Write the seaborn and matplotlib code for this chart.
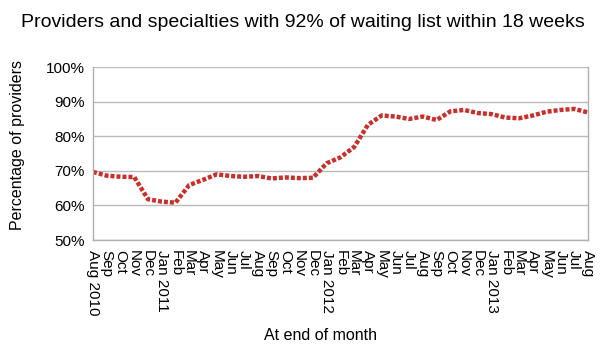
import seaborn as sns
import matplotlib.pyplot as plt
import pandas as pd
import numpy as np

months = ['Aug 2010', 'Sep', 'Oct', 'Nov', 'Dec', 'Jan 2011', 'Feb', 'Mar', 'Apr', 'May', 'Jun', 'Jul',
          'Aug', 'Sep', 'Oct', 'Nov', 'Dec', 'Jan 2012', 'Feb', 'Mar', 'Apr', 'May', 'Jun', 'Jul',
          'Aug', 'Sep', 'Oct', 'Nov', 'Dec', 'Jan 2013', 'Feb', 'Mar', 'Apr', 'May', 'Jun', 'Jul', 'Aug']
pct = [69.7, 68.6, 68.3, 68.2, 61.8, 61.1, 60.8, 65.9, 67.4, 69.0, 68.5, 68.3,
       68.5, 67.8, 68.1, 67.9, 68.0, 72.2, 73.9, 76.9, 83.3, 86.0, 85.7, 85.0,
       85.7, 84.7, 87.2, 87.6, 86.7, 86.4, 85.4, 85.2, 86.0, 87.1, 87.6, 87.9, 86.9]

df = pd.DataFrame({'month': np.arange(len(months)), 'pct': pct})

sns.set_style('white')
plt.rcParams['font.family'] = ['Liberation Sans', 'DejaVu Sans']
plt.rcParams['text.color'] = 'black'
plt.rcParams['axes.labelcolor'] = 'black'
plt.rcParams['xtick.color'] = 'black'
plt.rcParams['ytick.color'] = 'black'

fig = plt.figure(figsize=(6.02, 3.53), dpi=100)
ax = fig.add_axes([0.1545, 0.32, 0.822, 0.49])

sns.lineplot(data=df, x='month', y='pct', ax=ax, color='#c9302c', linewidth=3.2,
             linestyle=(0, (0.9, 0.45)), dash_capstyle='butt')

ax.set_xlim(0, len(months) - 1)
ax.set_ylim(50, 100)
ax.set_yticks(range(50, 101, 10))
ax.set_yticklabels([f'{v}%' for v in range(50, 101, 10)], fontsize=11)
ax.set_xticks(range(len(months)))
ax.set_xticklabels(months, rotation=-90, fontsize=11, va='top', ha='center')
ax.tick_params(axis='x', length=5, color='#b0b0b0', width=0.8, pad=2)
ax.tick_params(axis='y', length=0, pad=6)
ax.grid(axis='y', color='#bbbbbb', linewidth=1)
for s in ax.spines.values():
    s.set_color('#b0b0b0')
    s.set_linewidth(1)
ax.spines['top'].set_visible(False)

ax.set_xlabel('At end of month', fontsize=11.5)
ax.xaxis.set_label_coords(0.459, -0.55)
ax.xaxis.label.set_va('center')
ax.set_ylabel('Percentage of providers', fontsize=11.5)
ax.yaxis.set_label_coords(-0.152, 0.55)
ax.yaxis.label.set_va('center')
fig.text(0.503, 0.923, 'Providers and specialties with 92% of waiting list within 18 weeks',
         fontsize=14, ha='center', va='baseline')

fig.savefig('out.png', dpi=100)
